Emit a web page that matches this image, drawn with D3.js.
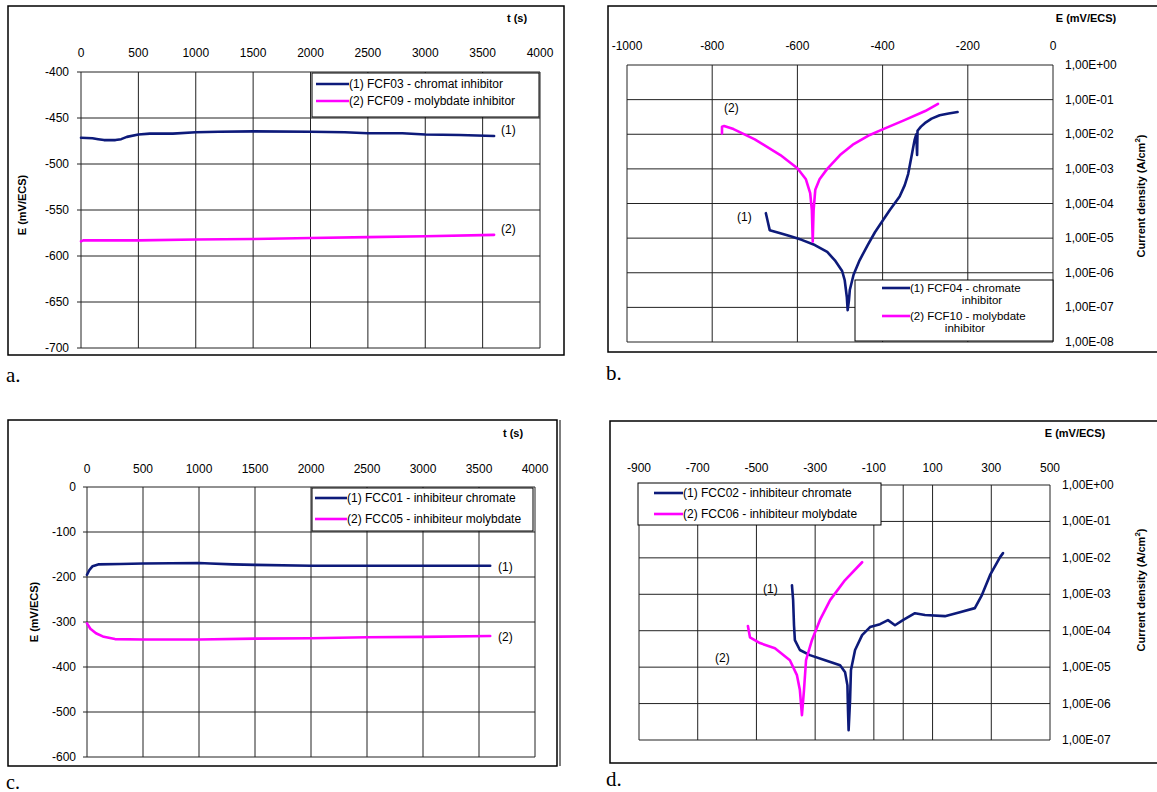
<!DOCTYPE html>
<html><head><meta charset="utf-8">
<script src="https://cdn.jsdelivr.net/npm/d3@7"></script>
<style>
body{margin:0;background:#fff;}
svg{display:block;font-family:"Liberation Sans",Arial,sans-serif;}
</style></head><body>
<svg id="c" width="1157" height="792"></svg>
<script>
// ---------- DATA ----------
// Panel a: open circuit potential vs time
const aTicksX = [0,500,1000,1500,2000,2500,3000,3500,4000];
const aTicksY = [-400,-450,-500,-550,-600,-650,-700];
const aChromT = [0,100,150,200,300,350,400,500,600,800,1000,1200,1500,2000,2300,2500,2800,3000,3300,3600];
const aChromE = [-471.5,-472,-473,-474,-474,-473,-470.5,-468,-467,-467,-465.5,-465,-464.5,-465,-465.5,-466.5,-466.5,-468,-468.5,-469.5];
const aMolyT = [0,20,500,1000,1500,2000,2500,3000,3600];
const aMolyE = [-584,-583,-583,-582,-581.5,-580.5,-579.5,-578.5,-577];
const aLegend = ["(1) FCF03 -  chromat inhibitor","(2) FCF09 - molybdate inhibitor"];

// Panel b: polarization curves
const bTicksX = [-1000,-800,-600,-400,-200,0];
const bExpY = [0,-1,-2,-3,-4,-5,-6,-7,-8];
const bChromE = [-674,-670,-665,-640,-618,-590,-559,-530,-512,-495,-489,-484,-482,-479,-477,-468,-454,-435,-418,-400,-383,-360,-348,-340,-336,-330,-325,-321,-320,-319,-318,-310,-301,-285,-266,-245,-224];
const bChromL = [-4.28,-4.5,-4.77,-4.86,-4.94,-5.05,-5.2,-5.4,-5.64,-5.95,-6.21,-6.7,-7.08,-6.8,-6.5,-6.05,-5.64,-5.2,-4.83,-4.5,-4.19,-3.8,-3.47,-3.15,-2.89,-2.5,-2.17,-2.0,-2.3,-2.6,-1.9,-1.78,-1.68,-1.55,-1.45,-1.4,-1.36];
const bMolyE = [-777,-777,-772,-750,-700,-640,-600,-580,-570,-566,-564,-562,-558,-548,-530,-500,-470,-430,-400,-350,-300,-270];
const bMolyL = [-1.98,-1.78,-1.76,-1.85,-2.15,-2.6,-2.98,-3.3,-3.7,-4.2,-5.1,-4.2,-3.6,-3.3,-3.0,-2.6,-2.3,-2.02,-1.86,-1.6,-1.33,-1.12];
const bLegend = [["(1) FCF04 - chromate","inhibitor"],["(2) FCF10 - molybdate","inhibitor"]];

// Panel c: open circuit potential vs time
const cTicksX = [0,500,1000,1500,2000,2500,3000,3500,4000];
const cTicksY = [0,-100,-200,-300,-400,-500,-600];
const cChromT = [0,20,50,100,300,500,1000,1100,1300,1500,2000,2500,3000,3600];
const cChromE = [-195,-185,-176,-172,-171,-170,-169,-170,-172,-173,-175,-175,-175,-175];
const cMolyT = [0,30,80,150,250,500,1000,1500,2000,2500,3000,3600];
const cMolyE = [-303,-315,-325,-333,-338,-339,-339,-337,-336,-334,-333,-331];
const cLegend = ["(1) FCC01 - inhibiteur chromate","(2) FCC05 - inhibiteur molybdate"];

// Panel d: polarization curves
const dTicksX = [-900,-700,-500,-300,-100,100,300,500];
const dExpY = [0,-1,-2,-3,-4,-5,-6,-7];
const dChromE = [-379,-375,-372,-369,-352,-318,-266,-215,-198,-190,-188,-186,-181,-178,-164,-140,-113,-79,-52,-28,-1,40,74,142,193,244,268,296,330,340];
const dChromL = [-2.75,-3.16,-3.85,-4.26,-4.53,-4.67,-4.81,-4.95,-5.14,-5.5,-6.2,-6.73,-5.9,-5.08,-4.53,-4.12,-3.9,-3.82,-3.71,-3.85,-3.71,-3.52,-3.57,-3.6,-3.49,-3.38,-3.02,-2.47,-1.98,-1.87];
const dMolyE = [-529,-522,-488,-437,-386,-362,-352,-345,-338,-331,-311,-284,-249,-198,-140];
const dMolyL = [-3.87,-4.18,-4.34,-4.48,-4.81,-5.22,-5.63,-6.32,-5.63,-4.81,-4.26,-3.71,-3.16,-2.61,-2.12];
const dLegend = ["(1) FCC02 - inhibiteur chromate","(2) FCC06 - inhibiteur molybdate"];

const captions = ["a.","b.","c.","d."];
const NAVY = "#0d1a7a", MAG = "#ff00ff";

// ---------- DRAW ----------
const svg = d3.select("#c");
svg.append("rect").attr("width",1157).attr("height",792).attr("fill","#fff");

function frame(x0,y0,x1,y1){
  svg.append("rect").attr("x",x0).attr("y",y0).attr("width",x1-x0).attr("height",y1-y0)
    .attr("fill","none").attr("stroke","#000").attr("stroke-width",1.5);
}
function grid(g,x,y,xv,yv){
  const [xa,xb]=x.range(),[ya,yb]=y.range();
  g.selectAll(null).data(xv).join("line").attr("x1",d=>x(d)).attr("x2",d=>x(d))
    .attr("y1",Math.min(ya,yb)).attr("y2",Math.max(ya,yb)).attr("stroke","#222").attr("stroke-width",1);
  g.selectAll(null).data(yv).join("line").attr("y1",d=>y(d)).attr("y2",d=>y(d))
    .attr("x1",xa).attr("x2",xb).attr("stroke","#222").attr("stroke-width",1);
}
function series(g,x,y,xs,ys,color,log){
  const pts = xs.map((v,i)=>[v, log? Math.pow(10,ys[i]) : ys[i]]);
  g.append("path").datum(pts).attr("fill","none").attr("stroke",color).attr("stroke-width",2.6)
    .attr("stroke-linejoin","round").attr("stroke-linecap","round")
    .attr("d",d3.line().x(d=>x(d[0])).y(d=>y(d[1])));
}
function txt(x,y,s,opt={}){
  const t=svg.append("text").attr("x",x).attr("y",y).text(s)
    .attr("font-size",opt.size||12).attr("fill","#000");
  if(opt.anchor) t.attr("text-anchor",opt.anchor);
  if(opt.bold) t.attr("font-weight","bold");
  if(opt.family) t.attr("font-family",opt.family);
  if(opt.rot!==undefined) t.attr("transform",`rotate(${opt.rot},${x},${y})`);
  return t;
}
function legendBox(x0,y0,x1,y1,rows,fs,lh){
  svg.append("rect").attr("x",x0).attr("y",y0).attr("width",x1-x0).attr("height",y1-y0)
    .attr("fill","#fff").attr("stroke","#000").attr("stroke-width",1);
  rows.forEach(r=>{
    svg.append("line").attr("x1",r.lx0).attr("x2",r.lx1).attr("y1",r.y).attr("y2",r.y)
      .attr("stroke",r.color).attr("stroke-width",2.6);
    r.lines.forEach((s,i)=>txt(r.tx[i],r.y+4+i*(lh||11),s,{size:fs||12,anchor:r.anchor?r.anchor[i]:null}));
  });
}
const fmtE = e => "1,00E" + (e<0?"-":"+") + String(Math.abs(e)).padStart(2,"0");

// ----- Panel a -----
frame(8,6,564,355);
{
  const x=d3.scaleLinear().domain([0,4000]).range([81,540]);
  const y=d3.scaleLinear().domain([-700,-400]).range([348,72]);
  const g=svg.append("g");
  grid(g,x,y,aTicksX,aTicksY);
  g.selectAll(null).data(aTicksY).join("line").attr("x1",x(0)-4).attr("x2",x(0)).attr("y1",d=>y(d)).attr("y2",d=>y(d)).attr("stroke","#222");
  aTicksX.forEach(v=>txt(x(v),57,String(v),{anchor:"middle"}));
  aTicksY.forEach(v=>txt(69,y(v)+4,String(v),{anchor:"end"}));
  series(g,x,y,aChromT,aChromE,NAVY);
  series(g,x,y,aMolyT,aMolyE,MAG);
  txt(517,22,"t (s)",{bold:true,size:11,anchor:"middle"});
  txt(26,205,"E (mV/ECS)",{bold:true,size:11,anchor:"middle",rot:-90});
  txt(501,134,"(1)",{size:12});
  txt(501,233,"(2)",{size:12});
  legendBox(312,73,539,117,[
    {y:84,color:NAVY,lx0:316,lx1:349,lines:[aLegend[0]],tx:[349]},
    {y:101,color:MAG,lx0:316,lx1:349,lines:[aLegend[1]],tx:[349]}]);
}

// ----- Panel b -----
frame(608,6,1162,352);
{
  const x=d3.scaleLinear().domain([-1000,0]).range([627,1053]);
  const y=d3.scaleLog().domain([1e-8,1]).range([342,65]);
  const g=svg.append("g");
  grid(g,x,y,bTicksX,bExpY.map(e=>Math.pow(10,e)));
  bTicksX.forEach(v=>txt(x(v),50,String(v),{anchor:"middle"}));
  bExpY.forEach(e=>txt(1065,y(Math.pow(10,e))+4,fmtE(e)));
  series(g,x,y,bChromE,bChromL,NAVY,true);
  series(g,x,y,bMolyE,bMolyL,MAG,true);
  txt(1086,22,"E (mV/ECS)",{bold:true,size:11,anchor:"middle"});
  const t=txt(1145,196,"Current density (A/cm",{bold:true,size:11,anchor:"middle",rot:-90});
  t.append("tspan").attr("dy",-5).attr("font-size",8).text("2");
  t.append("tspan").attr("dy",5).text(")");
  txt(737,221,"(1)",{size:12});
  txt(724,112,"(2)",{size:12});
  legendBox(855,280,1053,341,[
    {y:288,color:NAVY,lx0:882,lx1:910,lines:bLegend[0],tx:[910,982],anchor:[null,"middle"]},
    {y:316,color:MAG,lx0:882,lx1:910,lines:bLegend[1],tx:[910,965],anchor:[null,"middle"]}],11.5,12);
}

// ----- Panel c -----
frame(8,420,557,766);
svg.append("line").attr("x1",560).attr("x2",560).attr("y1",420).attr("y2",766).attr("stroke","#000").attr("stroke-width",1);
{
  const x=d3.scaleLinear().domain([0,4000]).range([87,535]);
  const y=d3.scaleLinear().domain([-600,0]).range([757,487]);
  const g=svg.append("g");
  grid(g,x,y,cTicksX,cTicksY);
  g.selectAll(null).data(cTicksY).join("line").attr("x1",x(0)-4).attr("x2",x(0)).attr("y1",d=>y(d)).attr("y2",d=>y(d)).attr("stroke","#222");
  cTicksX.forEach(v=>txt(x(v),473,String(v),{anchor:"middle"}));
  cTicksY.forEach(v=>txt(76,y(v)+4,String(v),{anchor:"end"}));
  series(g,x,y,cChromT,cChromE,NAVY);
  series(g,x,y,cMolyT,cMolyE,MAG);
  txt(513,437,"t (s)",{bold:true,size:11,anchor:"middle"});
  txt(38,612,"E (mV/ECS)",{bold:true,size:11,anchor:"middle",rot:-90});
  txt(498,571,"(1)",{size:12});
  txt(498,641,"(2)",{size:12});
  legendBox(312,488,533,531,[
    {y:498,color:NAVY,lx0:315,lx1:347,lines:[cLegend[0]],tx:[347]},
    {y:519,color:MAG,lx0:315,lx1:347,lines:[cLegend[1]],tx:[347]}]);
}

// ----- Panel d -----
frame(610,421,1162,763);
{
  const x=d3.scaleLinear().domain([-900,500]).range([639,1050]);
  const y=d3.scaleLog().domain([1e-7,1]).range([740,485]);
  const g=svg.append("g");
  grid(g,x,y,dTicksX.concat([0]),dExpY.map(e=>Math.pow(10,e)));
  dTicksX.forEach(v=>txt(x(v),472,String(v),{anchor:"middle"}));
  dExpY.forEach(e=>txt(1062,y(Math.pow(10,e))+4,fmtE(e)));
  series(g,x,y,dChromE,dChromL,NAVY,true);
  series(g,x,y,dMolyE,dMolyL,MAG,true);
  txt(1075,437,"E (mV/ECS)",{bold:true,size:11,anchor:"middle"});
  const t=txt(1145,590,"Current density (A/cm",{bold:true,size:11,anchor:"middle",rot:-90});
  t.append("tspan").attr("dy",-5).attr("font-size",8).text("2");
  t.append("tspan").attr("dy",5).text(")");
  txt(763,593,"(1)",{size:12});
  txt(715,662,"(2)",{size:12});
  legendBox(638,483,881,525,[
    {y:493,color:NAVY,lx0:654,lx1:683,lines:[dLegend[0]],tx:[683]},
    {y:514,color:MAG,lx0:654,lx1:683,lines:[dLegend[1]],tx:[683]}]);
}

// captions
txt(6,382,captions[0],{size:21,family:"Liberation Serif"});
txt(606,380,captions[1],{size:21,family:"Liberation Serif"});
txt(6,789,captions[2],{size:20,family:"Liberation Serif"});
txt(606,786,captions[3],{size:21,family:"Liberation Serif"});
</script></body></html>
